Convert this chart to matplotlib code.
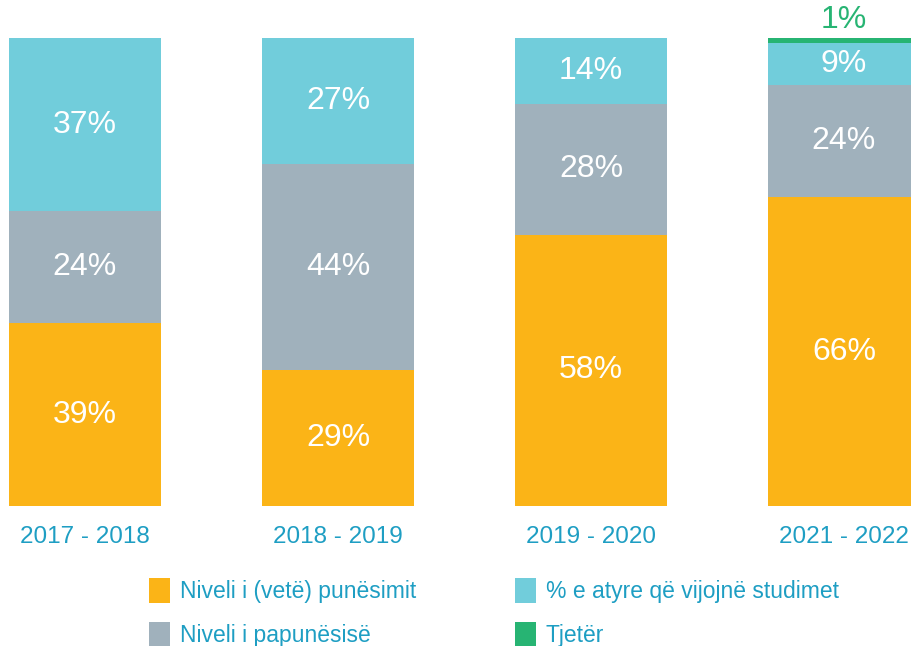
import matplotlib.pyplot as plt
import numpy as np

years = ['2017 - 2018', '2018 - 2019', '2019 - 2020', '2021 - 2022']
employed = [39, 29, 58, 66]
unemployed = [24, 44, 28, 24]
studying = [37, 27, 14, 9]
other = [0, 0, 0, 1]

series_names = ['Niveli i (vetë) punësimit', 'Niveli i papunësisë',
                '% e atyre që vijojnë studimet', 'Tjetër']
colors = ['#FBB417', '#A0B1BC', '#71CDDB', '#27B473']
text_blue = '#1E9EC3'

plt.rcParams['font.family'] = ['Liberation Sans', 'DejaVu Sans']

fig = plt.figure(figsize=(9.12, 6.46), dpi=100)
ax = fig.add_axes([0, 140 / 646, 1, 468 / 646])

x = np.arange(len(years))
width = 0.6
bottom = np.zeros(len(years))
for vals, name, col in zip([employed, unemployed, studying, other], series_names, colors):
    vals = np.array(vals, dtype=float)
    ax.bar(x, vals, width, bottom=bottom, color=col, label=name, linewidth=0)
    for xi, b, v in zip(x, bottom, vals):
        if v == 0:
            continue
        if v < 3:
            ax.text(xi, b + v + 0.6, f'{int(v)}%', ha='center', va='bottom',
                    color=col, fontsize=23, clip_on=False)
        else:
            ax.text(xi, b + v / 2, f'{int(v)}%', ha='center', va='center',
                    color='white', fontsize=23)
    bottom += vals

ax.set_xlim(-85 / 253, (912 - 85) / 253)
ax.set_ylim(0, 100)
ax.axis('off')

for xi, lab in zip(x, years):
    ax.text(xi, -6.6, lab, ha='center', va='center', color=text_blue,
            fontsize=17.5, clip_on=False)

handles, labels = ax.get_legend_handles_labels()
leg = fig.legend(handles, labels,
                 loc='upper left', bbox_to_anchor=(140 / 912, 1 - 569 / 646),
                 ncol=2, frameon=False, fontsize=16.5, handlelength=0.9,
                 handleheight=1.3, handletextpad=0.45, columnspacing=4.3,
                 labelspacing=0.8, borderaxespad=0)
for t in leg.get_texts():
    t.set_color(text_blue)

fig.savefig('out.png', dpi=100)
